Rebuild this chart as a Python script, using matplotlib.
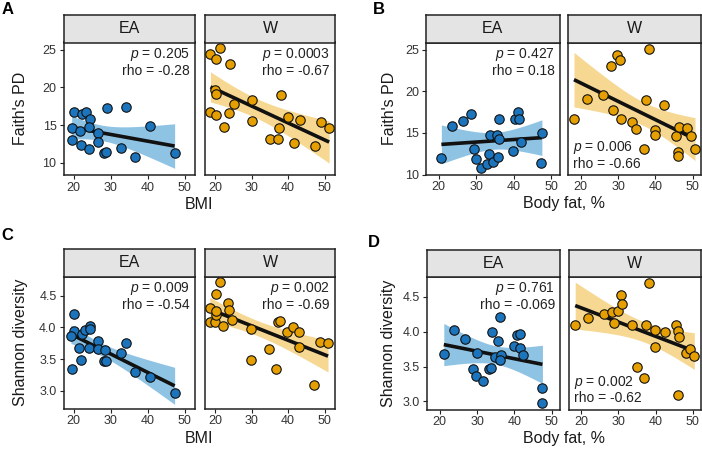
import numpy as np
import matplotlib
matplotlib.use('Agg')
import matplotlib.pyplot as plt

plt.rcParams['font.family'] = ['Liberation Sans', 'DejaVu Sans']
plt.rcParams['mathtext.fontset'] = 'custom'
plt.rcParams['mathtext.rm'] = 'Liberation Sans'
plt.rcParams['mathtext.it'] = 'Liberation Sans:italic'

# ---- data ----
groups = ['EA', 'W']

# A: Faith's PD vs BMI
a_ea_x = [20.0, 22.4, 23.3, 24.4, 19.5, 21.7, 24.3, 26.7, 19.5, 22.0, 24.2, 26.7, 28.3, 28.8, 29.0, 34.2, 32.9, 36.7, 40.7, 47.3]
a_ea_y = [16.68, 16.46, 16.68, 15.8, 14.65, 14.25, 14.7, 13.9, 13.0, 12.35, 11.8, 12.8, 11.25, 11.46, 17.25, 17.4, 12.0, 10.7, 14.87, 11.3]
a_w_x = [18.8, 21.5, 20.3, 24.2, 19.9, 20.4, 18.8, 20.2, 23.9, 25.1, 22.4, 30.1, 30.1, 38.0, 37.5, 35.0, 37.1, 40.0, 43.3, 41.7, 47.3, 49.0, 51.2]
a_w_y = [24.4, 25.25, 23.75, 23.05, 19.65, 19.1, 16.76, 16.3, 16.6, 17.74, 14.78, 18.3, 15.5, 18.98, 14.56, 13.1, 13.1, 16.0, 15.66, 12.57, 12.2, 15.36, 14.65]

# B: Faith's PD vs body fat
b_ea_x = [20.7, 23.6, 26.5, 28.6, 29.3, 29.9, 31.3, 32.9, 33.3, 33.75, 34.5, 35.5, 36.1, 35.8, 36.1, 39.8, 40.2, 41.1, 41.3, 41.9, 47.5, 47.2]
b_ea_y = [11.95, 15.9, 16.46, 17.33, 13.13, 11.86, 10.8, 11.27, 12.46, 14.75, 11.47, 14.75, 14.24, 12.1, 16.7, 12.85, 16.7, 17.5, 16.7, 13.96, 14.95, 11.39]
b_w_x = [18.2, 21.8, 26.0, 28.2, 29.8, 30.6, 38.2, 28.6, 30.9, 33.6, 34.8, 37.4, 37.0, 39.8, 39.8, 42.4, 45.5, 46.4, 48.4, 49.4, 46.1, 46.1, 50.6]
b_w_y = [16.73, 19.07, 19.58, 23.06, 24.4, 23.74, 25.13, 17.72, 16.7, 16.38, 15.5, 19.0, 13.13, 15.4, 14.75, 18.4, 14.63, 15.75, 15.63, 14.63, 12.73, 12.26, 13.13]

# C: Shannon vs BMI
c_ea_x = [20.0, 20.0, 19.3, 19.5, 22.2, 23.1, 24.4, 24.4, 21.5, 24.2, 22.0, 26.7, 26.7, 28.6, 28.3, 28.9, 32.9, 34.2, 36.7, 40.6, 47.3]
c_ea_y = [4.21, 3.94, 3.86, 3.35, 3.9, 3.96, 4.02, 3.97, 3.67, 3.67, 3.48, 3.79, 3.66, 3.64, 3.47, 3.47, 3.59, 3.76, 3.29, 3.21, 2.97]
c_w_x = [21.5, 20.2, 18.8, 18.6, 19.9, 20.2, 20.3, 22.2, 23.7, 23.9, 24.8, 29.8, 29.8, 34.9, 36.7, 37.3, 37.8, 39.8, 41.4, 42.9, 42.9, 47.2, 48.7, 50.9]
c_w_y = [4.71, 4.53, 4.30, 4.09, 4.09, 4.2, 4.26, 4.02, 4.39, 4.27, 4.12, 3.97, 3.48, 3.65, 3.34, 4.09, 4.10, 3.93, 4.01, 3.92, 3.69, 3.09, 3.77, 3.76]

# D: Shannon vs body fat
d_ea_x = [21.1, 23.8, 26.8, 30.0, 28.9, 29.8, 31.5, 33.1, 33.75, 33.9, 34.8, 35.7, 36.2, 36.4, 36.1, 39.9, 40.6, 41.5, 41.5, 42.2, 47.5, 47.5]
d_ea_y = [3.68, 4.02, 3.9, 3.69, 3.47, 3.36, 3.29, 3.46, 3.48, 3.99, 3.64, 3.86, 4.21, 3.67, 3.59, 3.79, 3.95, 3.96, 3.76, 3.67, 3.2, 2.98]
d_w_x = [18.4, 21.9, 26.2, 28.2, 29.9, 30.6, 31.1, 28.7, 38.2, 33.7, 37.5, 39.8, 39.8, 42.4, 45.5, 46.1, 46.3, 48.2, 49.3, 50.4, 34.9, 37.0, 46.1]
d_w_y = [4.09, 4.19, 4.26, 4.28, 4.3, 4.52, 4.39, 4.13, 4.7, 4.09, 4.1, 4.02, 3.78, 3.99, 4.09, 4.01, 3.93, 3.7, 3.75, 3.65, 3.49, 3.34, 3.09]

stats_p = {'A': ['0.205', '0.0003'], 'B': ['0.427', '0.006'], 'C': ['0.009', '0.002'], 'D': ['0.761', '0.002']}
stats_rho = {'A': ['-0.28', '-0.67'], 'B': ['0.18', '-0.66'], 'C': ['-0.54', '-0.69'], 'D': ['-0.069', '-0.62']}

x_ticks = [20, 30, 40, 50]
faith_ticks = [10, 15, 20, 25]
shannon_ticks = [3.0, 3.5, 4.0, 4.5]

# ---- style ----
W, H = 702, 450
pt_col = {'EA': '#1c75bc', 'W': '#e69f00'}
band_col = {'EA': '#8fc3e4', 'W': '#f6d893'}
T975 = {17: 2.110, 18: 2.101, 19: 2.093, 20: 2.086, 21: 2.080, 22: 2.074, 23: 2.069}

fig = plt.figure(figsize=(W / 100, H / 100), dpi=100)


def rect(x0, x1, y0, y1):
    return [x0 / W, 1 - y1 / H, (x1 - x0) / W, (y1 - y0) / H]


def lm_band(x, y):
    x = np.asarray(x, float); y = np.asarray(y, float)
    n = len(x)
    b, a = np.polyfit(x, y, 1)
    xs = np.linspace(x.min(), x.max(), 80)
    res = y - (a + b * x)
    s = np.sqrt(np.sum(res ** 2) / (n - 2))
    se = s * np.sqrt(1 / n + (xs - x.mean()) ** 2 / np.sum((x - x.mean()) ** 2))
    fit = a + b * xs
    t = T975[n - 2]
    return xs, fit, fit - t * se, fit + t * se


def facet(xr, yr, sy, xs, ys, xlim, ylim, yticks, yfmt, letter, corner):
    for i, g in enumerate(groups):
        x0, x1 = xr[i]
        ax = fig.add_axes(rect(x0, x1, yr[0], yr[1]))
        bx, fit, lo, hi = lm_band(xs[i], ys[i])
        ax.fill_between(bx, lo, hi, color=band_col[g], lw=0, zorder=1)
        ax.plot(bx, fit, color='#111111', lw=2.6, zorder=2, solid_capstyle='butt')
        ax.scatter(xs[i], ys[i], s=46, c=pt_col[g], edgecolors='#111111', linewidths=0.8, zorder=3)
        ax.set_xlim(xlim); ax.set_ylim(ylim)
        ax.set_xticks(x_ticks)
        ax.set_yticks(yticks)
        ax.set_yticklabels([yfmt.format(v) for v in yticks])
        ax.tick_params(length=3, width=0.8, color='#222222', labelsize=9, labelcolor='#333333', pad=2)
        if i == 1:
            ax.tick_params(axis='y', left=False, labelleft=False)
        for sp in ax.spines.values():
            sp.set_linewidth(1.1); sp.set_color('#222222')
        hpx = yr[1] - yr[0]; wpx = x1 - x0
        ptxt = '$p$ = ' + stats_p[letter][i]
        rtxt = 'rho = ' + stats_rho[letter][i]
        if i == 1 and corner == 'bl':
            ax.text(5 / wpx, 27 / hpx, ptxt, transform=ax.transAxes, ha='left', va='center', fontsize=10, color='#222222')
            ax.text(5 / wpx, 11 / hpx, rtxt, transform=ax.transAxes, ha='left', va='center', fontsize=10, color='#222222')
        else:
            ax.text(1 - 5 / wpx, 1 - 12 / hpx, ptxt, transform=ax.transAxes, ha='right', va='center', fontsize=10, color='#222222')
            ax.text(1 - 5 / wpx, 1 - 28.5 / hpx, rtxt, transform=ax.transAxes, ha='right', va='center', fontsize=10, color='#222222')
        # strip
        sax = fig.add_axes(rect(x0, x1, sy, yr[0]))
        sax.set_facecolor('#e4e4e4')
        sax.set_xticks([]); sax.set_yticks([])
        for sp in sax.spines.values():
            sp.set_linewidth(1.1); sp.set_color('#222222')
        sax.text(0.5, 0.5, g, ha='center', va='center', fontsize=11.5, color='#1a1a1a', transform=sax.transAxes)


facet([(63.5, 195), (205, 335)], (42.5, 175), 15, [a_ea_x, a_w_x], [a_ea_y, a_w_y],
      (17.3, 52.8), (8.37, 25.95), faith_ticks, '{:g}', 'A', 'tr')
facet([(426, 559.5), (568, 701)], (42.5, 174.5), 15, [b_ea_x, b_w_x], [b_ea_y, b_w_y],
      (16.6, 52.2), (10.0, 25.9), faith_ticks, '{:g}', 'B', 'bl')
facet([(63.5, 195), (205, 335)], (276.5, 408.5), 249, [c_ea_x, c_w_x], [c_ea_y, c_w_y],
      (17.3, 52.8), (2.72, 4.80), shannon_ticks, '{:.1f}', 'C', 'tr')
facet([(427, 560), (568.5, 701)], (276.5, 409.5), 249.5, [d_ea_x, d_w_x], [d_ea_y, d_w_y],
      (16.6, 52.2), (2.885, 4.79), shannon_ticks, '{:.1f}', 'D', 'bl')

lab = dict(fontsize=11.5, color='#1a1a1a', ha='center', va='center')
fig.text(21 / W, 1 - 108.5 / H, "Faith's PD", rotation=90, **lab)
fig.text(390 / W, 1 - 108.5 / H, "Faith's PD", rotation=90, **lab)
fig.text(21 / W, 1 - 342.5 / H, 'Shannon diversity', rotation=90, **lab)
fig.text(388 / W, 1 - 343 / H, 'Shannon diversity', rotation=90, **lab)
fig.text(199 / W, 1 - 205 / H, 'BMI', **lab)
fig.text(199 / W, 1 - 438.5 / H, 'BMI', **lab)
fig.text(564 / W, 1 - 203.5 / H, 'Body fat, %', **lab)
fig.text(564 / W, 1 - 439 / H, 'Body fat, %', **lab)

for letter, (lx, ly) in zip('ABCD', [(7.5, 9), (378.5, 9), (7.5, 235), (374, 242.5)]):
    fig.text(lx / W, 1 - ly / H, letter, fontsize=12, fontweight='bold', ha='center', va='center')

fig.savefig('out.png', dpi=100)
